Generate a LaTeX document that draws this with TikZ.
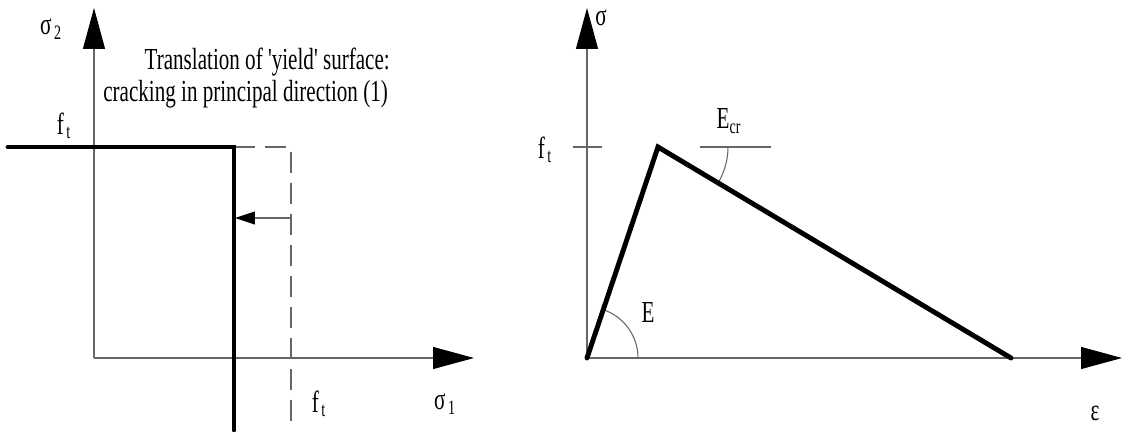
\documentclass[tikz,border=0pt]{standalone}
\usepackage{fontspec}
\setmainfont{Liberation Serif}
\usepackage{graphicx}
\usetikzlibrary{arrows.meta}
\newcommand{\tall}[1]{\scalebox{1}[1.45]{#1}}
\newcommand{\sub}[1]{\kern1.5pt\textsubscript{#1}}

\begin{document}
\begin{tikzpicture}[x=0.02cm,y=0.02cm,font=\fontsize{12}{14}\selectfont,
    axis/.style={draw=black!60,line width=0.6pt,-{Triangle[length=0.82cm,width=0.44cm,color=black]}},
    thin/.style={draw=black!60,line width=0.6pt},
    curve/.style={line width=2.8pt,line cap=round},
    shifted/.style={draw=black!60,line width=0.6pt,dash pattern=on 0.42cm off 0.2cm}]
  \useasboundingbox (0,0) rectangle (1123,432);
  \def\ftop{285}
  % left: yield surface
  \coordinate (O1) at (94,74);
  \coordinate (s2tip) at (94,424);
  \coordinate (s1tip) at (474,74);
  \coordinate (left) at (8,\ftop);
  \coordinate (corner) at (234,\ftop);
  \coordinate (bottom) at (234,2);
  \coordinate (oldcorner) at (291,\ftop);
  \coordinate (oldbottom) at (291,2);
  \coordinate (from) at (291,214);
  \coordinate (to) at (235,214);
  \draw[axis] (O1) -- (s2tip);
  \draw[axis] (O1) -- (s1tip);
  \draw[shifted] (corner) -- (oldcorner) -- (oldbottom);
  \draw[thin,-{Triangle[length=0.4cm,width=0.26cm,color=black]}] (from) -- (to);
  \draw[curve] (left) -- (corner) -- (bottom);
  \node (s2) at (51,403) {\tall{σ\sub{2}}};
  \node (s1) at (445,28) {\tall{σ\sub{1}}};
  \node (ftl) at (64,306) {\tall{f\sub{t}}};
  \node (ftb) at (319,28) {\tall{f\sub{t}}};
  \node[anchor=base east] (title1) at (396,362) {\tall{Translation of \textquotesingle yield\textquotesingle\ surface:}};
  \node[anchor=base east] (title2) at (394,330) {\tall{cracking in principal direction (1)}};
  % right: stress-strain
  \coordinate (O2) at (587,74);
  \coordinate (stip) at (587,424);
  \coordinate (etip) at (1122,74);
  \coordinate (peak) at (658,\ftop);
  \coordinate (end) at (1011,74);
  \coordinate (tickl) at (573,\ftop);
  \coordinate (tickr) at (602,\ftop);
  \coordinate (refl) at (700,\ftop);
  \coordinate (refr) at (771,\ftop);
  \draw[axis] (O2) -- (stip);
  \draw[axis] (O2) -- (etip);
  \draw[thin] (tickl) -- (tickr);
  \draw[thin] (refl) -- (refr);
  \draw[thin] ([xshift=51*0.02cm]O2) arc[start angle=0,end angle=71.4,radius=51];
  \draw[thin] ([xshift=70*0.02cm]peak) arc[start angle=0,end angle=-30.9,radius=70];
  \draw[curve] (O2) -- (peak) -- (end);
  \node (sig) at (601,414) {\tall{σ}};
  \node (eps) at (1095,19) {\tall{ε}};
  \node (ftr) at (545,282) {\tall{f\sub{t}}};
  \node (E) at (648,120) {\tall{E}};
  \node (Ecr) at (729,311) {\tall{E\textsubscript{cr}}};
\end{tikzpicture}
\end{document}
